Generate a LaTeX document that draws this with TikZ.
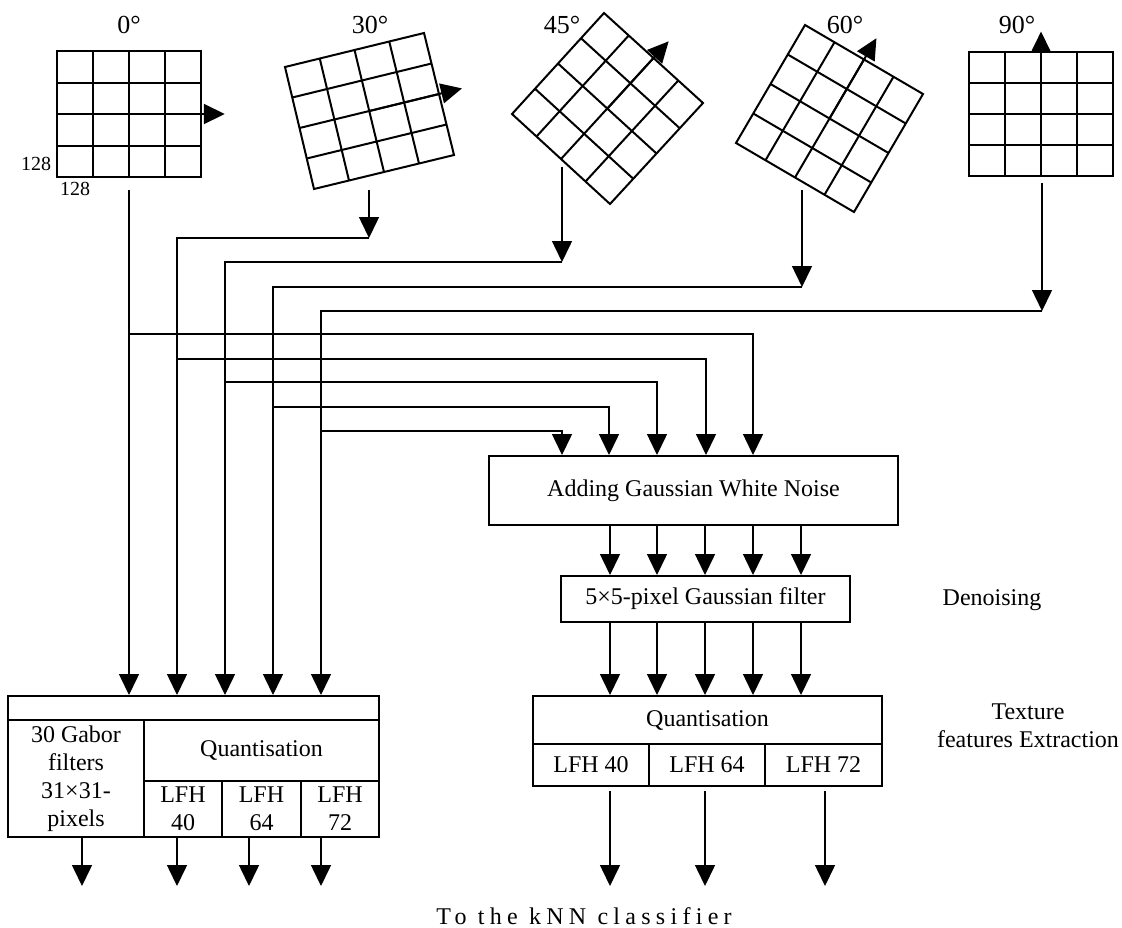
\documentclass[tikz,border=0pt]{standalone}
\usepackage{fontspec}
\setmainfont{Liberation Serif}
\usetikzlibrary{arrows.meta,positioning,fit,calc}

% one rotated 4x4 grid: name, corners TL TR BR BL
\newcommand{\anglegrid}[5]{%
  \coordinate (#1tl) at (#2);
  \coordinate (#1tr) at (#3);
  \coordinate (#1br) at (#4);
  \coordinate (#1bl) at (#5);
  \draw[gridline] (#1tl) -- (#1tr) -- (#1br) -- (#1bl) -- cycle;
  \foreach \k in {1,2,3} {
    \draw[gridline] ($(#1tl)!\k/4!(#1tr)$) -- ($(#1bl)!\k/4!(#1br)$);
    \draw[gridline] ($(#1tl)!\k/4!(#1bl)$) -- ($(#1tr)!\k/4!(#1br)$);
  }
  \coordinate (#1c) at ($(#1tl)!0.5!(#1br)$);
}

\begin{document}
\begin{tikzpicture}[x=0.5pt,y=-0.5pt,
  font=\fontsize{12}{14}\selectfont,
  >={Triangle[width=10pt,length=10.5pt]},
  cell/.style={draw, line width=1pt, inner sep=0pt},
  txt/.style={label={[align=center]center:#1}},
  conn/.style={line width=0.75pt,->},
  gridline/.style={line width=1pt},
  garrow/.style={line width=1pt,->},
  deglabel/.style={font=\fontsize{13}{15}\selectfont},
  sidelabel/.style={align=center}
  ]
  \useasboundingbox (0,0) rectangle (1122,927);

  % Rotated images
  \anglegrid{g0}{57,51}{201,51}{201,177}{57,177}
  \anglegrid{g30}{285,67}{424,33}{454,155}{314,189}
  \anglegrid{g45}{512,114}{604,13}{703,103}{610,204}
  \anglegrid{g60}{736,143}{805,25}{923,94}{854,212}
  \anglegrid{g90}{969,52}{1113,52}{1113,176}{969,176}

  \draw[garrow] (g0c) -- ($(g0c)!1.33!($(g0tr)!0.5!(g0br)$)$);
  \draw[garrow] (g30c) -- ($(g30c)!1.33!($(g30tr)!0.5!(g30br)$)$);
  \draw[garrow] (g45c) -- ($(g45c)!1.33!($(g45tr)!0.5!(g45br)$)$);
  \draw[garrow] (g60c) -- ($(g60c)!1.36!($(g60tr)!0.5!(g60br)$)$);
  \draw[garrow] (g90c) -- ($(g90c)!1.33!($(g90tl)!0.5!(g90tr)$)$);

  \node[deglabel] (d0) at (129,25) {0°};
  \node[deglabel] (d30) at (370,25) {30°};
  \node[deglabel] (d45) at (562,25) {45°};
  \node[deglabel] (d60) at (845,25) {60°};
  \node[deglabel] (d90) at (1017,25) {90°};
  \node[font=\fontsize{10}{12}\selectfont] (sz1) at (36,164) {128};
  \node[font=\fontsize{10}{12}\selectfont] (sz2) at (75,189) {128};

  % Gabor block
  \node[cell, fit={(8,696)(379,720)}] (lbar) {};
  \node[cell, fit={(8,720)(144,837)}, txt={30 Gabor\\filters\\31×31-\\pixels}] (lgab) {};
  \node[cell, fit={(144,720)(379,781)}, txt=Quantisation] (lquant) {};
  \node[cell, fit={(144,781)(222,837)}, txt={LFH\\40}] (l40) {};
  \node[cell, fit={(222,781)(301,837)}, txt={LFH\\64}] (l64) {};
  \node[cell, fit={(301,781)(379,837)}, txt={LFH\\72}] (l72) {};

  % Noise branch
  \node[cell, fit={(489,456)(898,525)}, txt=Adding Gaussian White Noise] (noise) {};
  \node[cell, fit={(561,576)(850,622)}, txt=5×5-pixel Gaussian filter] (gfilt) {};
  \node[cell, fit={(533,696)(882,744)}, txt=Quantisation] (rquant) {};
  \node[cell, fit={(533,744)(649,786)}, txt=LFH 40] (r40) {};
  \node[cell, fit={(649,744)(765,786)}, txt=LFH 64] (r64) {};
  \node[cell, fit={(765,744)(882,786)}, txt=LFH 72] (r72) {};

  \node[sidelabel] (denoise) at (992,600) {Denoising};
  \node[sidelabel] (texture) at (1028,726) {Texture\\features Extraction};
  \node (knn) at (584,916) {\addfontfeature{LetterSpace=22}To the kNN classifier};

  % Feeds from the images
  \coordinate (s0) at (129,190);
  \coordinate (s30) at (369,190);
  \coordinate (s45) at (562,167);
  \coordinate (s60) at (802,190);
  \coordinate (s90) at (1042,183);
  \coordinate (e30) at (369,238);
  \coordinate (e45) at (562,262);
  \coordinate (e60) at (802,287);
  \coordinate (e90) at (1042,311);
  \coordinate (v30) at (177,238);
  \coordinate (v45) at (225,262);
  \coordinate (v60) at (273,287);
  \coordinate (v90) at (321,311);
  \coordinate (b0) at (753,334);
  \coordinate (b30) at (706,359);
  \coordinate (b45) at (657,382);
  \coordinate (b60) at (609,407);
  \coordinate (b90) at (562,431);

  \draw[conn] (s0) -- (s0 |- lbar.north);
  \draw[conn] (s0 |- b0) -- (b0) -- (b0 |- noise.north);
  \foreach \a in {30,45,60,90} {
    \draw[conn] (s\a) -- (e\a);
    \draw[conn] (e\a) -- (v\a) -- (v\a |- lbar.north);
    \draw[conn] (v\a |- b\a) -- (b\a) -- (b\a |- noise.north);
  }

  % Noise -> filter -> quantisation
  \foreach \x in {610,657,705,753,801} {
    \draw[conn] (\x,0 |- noise.south) -- (\x,0 |- gfilt.north);
    \draw[conn] (\x,0 |- gfilt.south) -- (\x,0 |- rquant.north);
  }

  % Outputs to classifier
  \coordinate (out) at (0,886);
  \foreach \x in {82,177,249,321}
    \draw[conn] (\x,0 |- lgab.south) -- (\x,0 |- out);
  \foreach \x in {610,705,825}
    \draw[conn] ([yshift=-2pt]\x,0 |- r40.south) -- (\x,0 |- out);
\end{tikzpicture}
\end{document}
